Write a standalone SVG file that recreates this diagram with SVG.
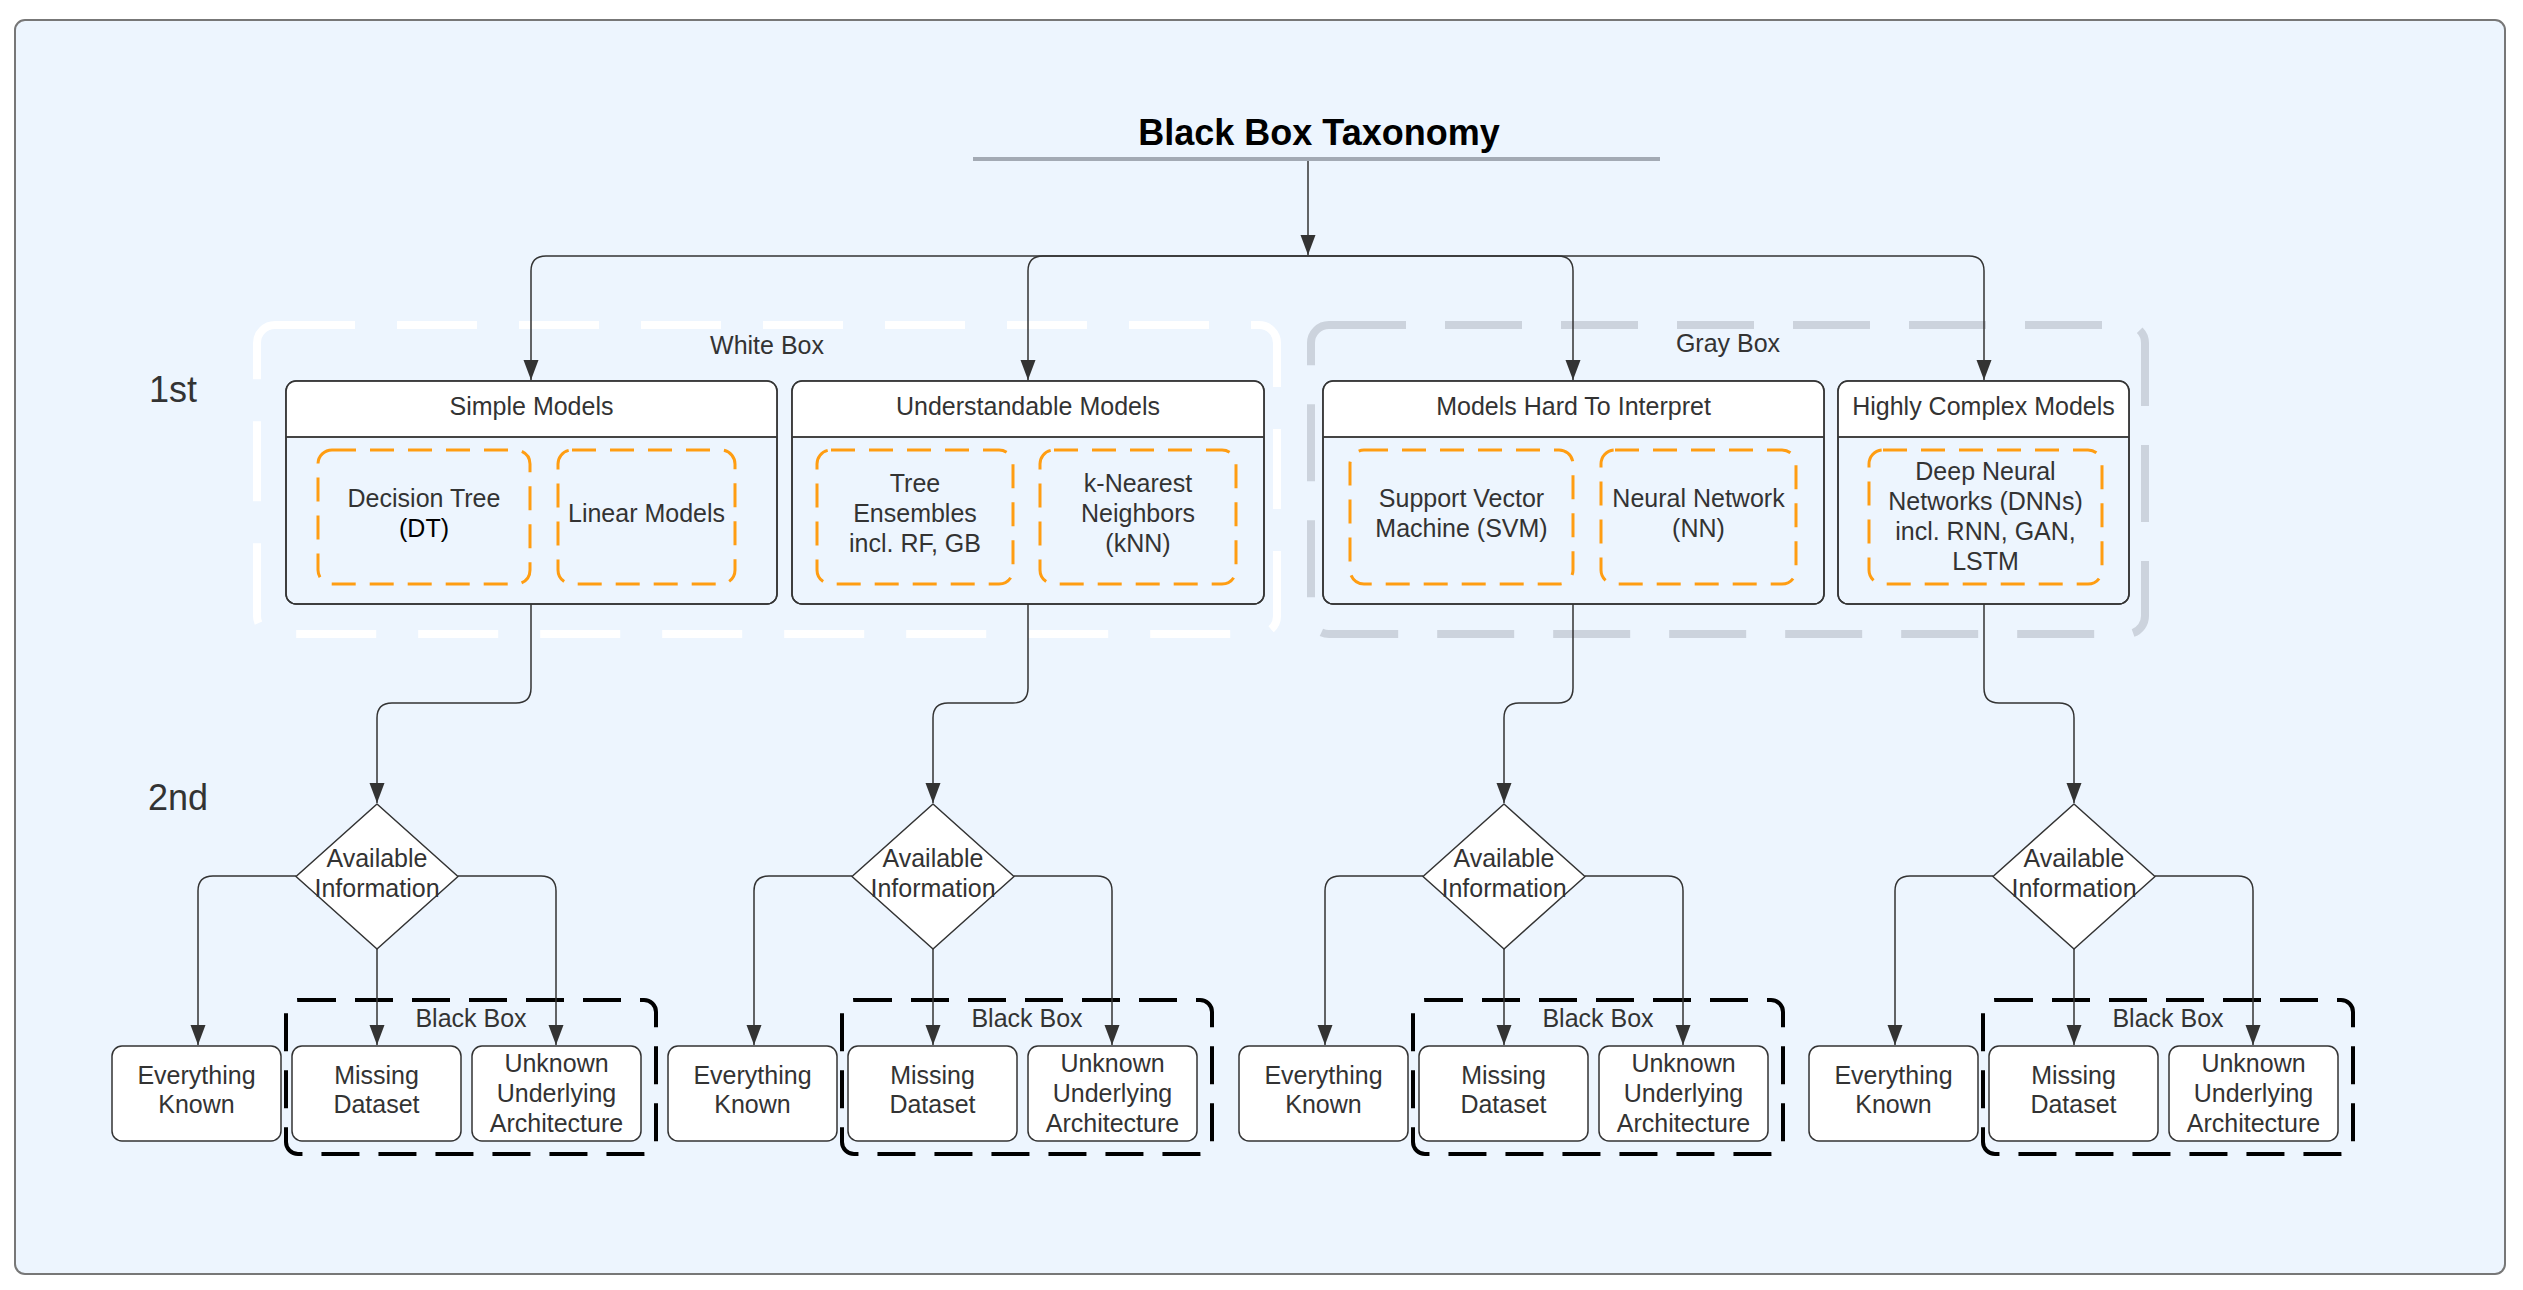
<svg xmlns="http://www.w3.org/2000/svg" width="2523" height="1290" viewBox="0 0 2523 1290">
<defs>
<style>
text{font-family:"Liberation Sans",Arial,Helvetica,sans-serif;fill:#333333;}
.t25{font-size:25px;}
.mid{text-anchor:middle;}
.lvl{font-size:36px;}
.title{font-size:36px;font-weight:bold;fill:#000000;}
.cat-body{fill:#edf5fe;stroke:#333333;stroke-width:1.5;}
.cat-head{fill:#ffffff;stroke:none;}
.divider{stroke:#444444;stroke-width:2;}
.orange{fill:none;stroke:#ff9d12;stroke-width:3;stroke-dasharray:24 14;}
.wbox{fill:none;stroke:#ffffff;stroke-width:8;stroke-dasharray:80 42;}
.gbox{fill:none;stroke:#ccd3dd;stroke-width:8;stroke-dasharray:77 39;}
.bbox{fill:none;stroke:#000000;stroke-width:4;stroke-dasharray:38 19;}
.node{fill:#ffffff;stroke:#333333;stroke-width:1.5;}
.conn path{fill:none;stroke:#333333;stroke-width:1.5;marker-end:url(#arrow);}
</style>
<marker id="arrow" markerUnits="userSpaceOnUse" markerWidth="21" markerHeight="16" refX="20" refY="7.5" orient="auto">
<path d="M0,0 L20,7.5 L0,15 Z" fill="#333333"/>
</marker>
</defs>

<rect id="frame" x="15" y="20" width="2490" height="1254" rx="10" fill="#edf5fe" stroke="#777777" stroke-width="2"/>

<g id="title">
<text class="title mid" x="1319" y="145">Black Box Taxonomy</text>
<line x1="973" y1="159" x2="1660" y2="159" stroke="#a3aab4" stroke-width="4"/>
</g>

<g id="level-labels">
<text class="lvl" x="149" y="402">1st</text>
<text class="lvl" x="148" y="810">2nd</text>
</g>

<g id="white-box">
<rect class="wbox" x="257" y="325" width="1020" height="309" rx="18"/>
<text class="t25 mid" x="767" y="354">White Box</text>
</g>
<g id="gray-box">
<rect class="gbox" x="1311" y="325" width="834" height="309" rx="18"/>
<text class="t25 mid" x="1728" y="352">Gray Box</text>
</g>

<g id="black-box-1"><rect class="bbox" x="286" y="1000" width="370" height="154" rx="12"/><text class="t25 mid" x="471" y="1027">Black Box</text></g>
<g id="black-box-2"><rect class="bbox" x="842" y="1000" width="370" height="154" rx="12"/><text class="t25 mid" x="1027" y="1027">Black Box</text></g>
<g id="black-box-3"><rect class="bbox" x="1413" y="1000" width="370" height="154" rx="12"/><text class="t25 mid" x="1598" y="1027">Black Box</text></g>
<g id="black-box-4"><rect class="bbox" x="1983" y="1000" width="370" height="154" rx="12"/><text class="t25 mid" x="2168" y="1027">Black Box</text></g>

<g id="connectors" class="conn">
<path d="M1308,161 V255"/>
<path d="M1308,256 H546 Q531,256 531,271 V380"/>
<path d="M1308,256 H1043 Q1028,256 1028,271 V380"/>
<path d="M1308,256 H1558 Q1573,256 1573,271 V380"/>
<path d="M1308,256 H1969 Q1984,256 1984,271 V380"/>
<path d="M531,604 V688 Q531,703 516,703 H392 Q377,703 377,718 V803"/>
<path d="M1028,604 V688 Q1028,703 1013,703 H948 Q933,703 933,718 V803"/>
<path d="M1573,604 V688 Q1573,703 1558,703 H1519 Q1504,703 1504,718 V803"/>
<path d="M1984,604 V688 Q1984,703 1999,703 H2059 Q2074,703 2074,718 V803"/>
<path d="M296,876 H213 Q198,876 198,891 V1045"/>
<path d="M377,949 V1045"/>
<path d="M458,876 H541 Q556,876 556,891 V1045"/>
<path d="M852,876 H769 Q754,876 754,891 V1045"/>
<path d="M933,949 V1045"/>
<path d="M1014,876 H1097 Q1112,876 1112,891 V1045"/>
<path d="M1423,876 H1340 Q1325,876 1325,891 V1045"/>
<path d="M1504,949 V1045"/>
<path d="M1585,876 H1668 Q1683,876 1683,891 V1045"/>
<path d="M1993,876 H1910 Q1895,876 1895,891 V1045"/>
<path d="M2074,949 V1045"/>
<path d="M2155,876 H2238 Q2253,876 2253,891 V1045"/>
</g>

<g id="simple-models">
<rect class="cat-body" x="286" y="381" width="491" height="223" rx="10"/>
<path class="cat-head" d="M286.75,437 V391 Q286.75,381.75 296,381.75 H767 Q776.25,381.75 776.25,391 V437 Z"/>
<line class="divider" x1="286" y1="437" x2="777" y2="437"/>
<rect x="286" y="381" width="491" height="223" rx="10" fill="none" stroke="#333333" stroke-width="1.5"/>
<text class="t25 mid" x="531.5" y="415">Simple Models</text>
</g>
<g id="decision-tree">
<rect class="orange" x="318" y="450" width="212" height="134" rx="14"/>
<text class="t25 mid" x="424" y="507">Decision Tree</text>
<text class="t25 mid" x="424" y="537" style="fill:#000000">(DT)</text>
</g>
<g id="linear-models">
<rect class="orange" x="558" y="450" width="177" height="134" rx="14"/>
<text class="t25 mid" x="646.5" y="522">Linear Models</text>
</g>

<g id="understandable-models">
<rect class="cat-body" x="792" y="381" width="472" height="223" rx="10"/>
<path class="cat-head" d="M792.75,437 V391 Q792.75,381.75 802,381.75 H1254 Q1263.25,381.75 1263.25,391 V437 Z"/>
<line class="divider" x1="792" y1="437" x2="1264" y2="437"/>
<rect x="792" y="381" width="472" height="223" rx="10" fill="none" stroke="#333333" stroke-width="1.5"/>
<text class="t25 mid" x="1028" y="415">Understandable Models</text>
</g>
<g id="tree-ensembles">
<rect class="orange" x="817" y="450" width="196" height="134" rx="14"/>
<text class="t25 mid" x="915" y="492">Tree</text>
<text class="t25 mid" x="915" y="522">Ensembles</text>
<text class="t25 mid" x="915" y="552">incl. RF, GB</text>
</g>
<g id="knn">
<rect class="orange" x="1040" y="450" width="196" height="134" rx="14"/>
<text class="t25 mid" x="1138" y="492">k-Nearest</text>
<text class="t25 mid" x="1138" y="522">Neighbors</text>
<text class="t25 mid" x="1138" y="552">(kNN)</text>
</g>

<g id="models-hard-to-interpret">
<rect class="cat-body" x="1323" y="381" width="501" height="223" rx="10"/>
<path class="cat-head" d="M1323.75,437 V391 Q1323.75,381.75 1333,381.75 H1814 Q1823.25,381.75 1823.25,391 V437 Z"/>
<line class="divider" x1="1323" y1="437" x2="1824" y2="437"/>
<rect x="1323" y="381" width="501" height="223" rx="10" fill="none" stroke="#333333" stroke-width="1.5"/>
<text class="t25 mid" x="1573.5" y="415">Models Hard To Interpret</text>
</g>
<g id="svm">
<rect class="orange" x="1350" y="450" width="223" height="134" rx="14"/>
<text class="t25 mid" x="1461.5" y="507">Support Vector</text>
<text class="t25 mid" x="1461.5" y="537">Machine (SVM)</text>
</g>
<g id="neural-network">
<rect class="orange" x="1601" y="450" width="195" height="134" rx="14"/>
<text class="t25 mid" x="1698.5" y="507">Neural Network</text>
<text class="t25 mid" x="1698.5" y="537">(NN)</text>
</g>

<g id="highly-complex-models">
<rect class="cat-body" x="1838" y="381" width="291" height="223" rx="10"/>
<path class="cat-head" d="M1838.75,437 V391 Q1838.75,381.75 1848,381.75 H2119 Q2128.25,381.75 2128.25,391 V437 Z"/>
<line class="divider" x1="1838" y1="437" x2="2129" y2="437"/>
<rect x="1838" y="381" width="291" height="223" rx="10" fill="none" stroke="#333333" stroke-width="1.5"/>
<text class="t25 mid" x="1983.5" y="415">Highly Complex Models</text>
</g>
<g id="dnn">
<rect class="orange" x="1869" y="450" width="233" height="134" rx="14"/>
<text class="t25 mid" x="1985.5" y="480">Deep Neural</text>
<text class="t25 mid" x="1985.5" y="510">Networks (DNNs)</text>
<text class="t25 mid" x="1985.5" y="540">incl. RNN, GAN,</text>
<text class="t25 mid" x="1985.5" y="570">LSTM</text>
</g>

<g id="info-1">
<path class="node" stroke-linejoin="round" d="M377,804 L458,876.5 L377,949 L296,876.5 Z"/>
<text class="t25 mid" x="377" y="867">Available</text>
<text class="t25 mid" x="377" y="897">Information</text>
</g>
<g id="info-2">
<path class="node" stroke-linejoin="round" d="M933,804 L1014,876.5 L933,949 L852,876.5 Z"/>
<text class="t25 mid" x="933" y="867">Available</text>
<text class="t25 mid" x="933" y="897">Information</text>
</g>
<g id="info-3">
<path class="node" stroke-linejoin="round" d="M1504,804 L1585,876.5 L1504,949 L1423,876.5 Z"/>
<text class="t25 mid" x="1504" y="867">Available</text>
<text class="t25 mid" x="1504" y="897">Information</text>
</g>
<g id="info-4">
<path class="node" stroke-linejoin="round" d="M2074,804 L2155,876.5 L2074,949 L1993,876.5 Z"/>
<text class="t25 mid" x="2074" y="867">Available</text>
<text class="t25 mid" x="2074" y="897">Information</text>
</g>

<g id="everything-known-1"><rect class="node" x="112" y="1046" width="169" height="95" rx="10"/><text class="t25 mid" x="196.5" y="1084">Everything</text><text class="t25 mid" x="196.5" y="1113">Known</text></g>
<g id="missing-dataset-1"><rect class="node" x="292" y="1046" width="169" height="95" rx="10"/><text class="t25 mid" x="376.5" y="1084">Missing</text><text class="t25 mid" x="376.5" y="1113">Dataset</text></g>
<g id="unknown-arch-1"><rect class="node" x="472" y="1046" width="169" height="95" rx="10"/><text class="t25 mid" x="556.5" y="1072">Unknown</text><text class="t25 mid" x="556.5" y="1102">Underlying</text><text class="t25 mid" x="556.5" y="1132">Architecture</text></g>

<g id="everything-known-2"><rect class="node" x="668" y="1046" width="169" height="95" rx="10"/><text class="t25 mid" x="752.5" y="1084">Everything</text><text class="t25 mid" x="752.5" y="1113">Known</text></g>
<g id="missing-dataset-2"><rect class="node" x="848" y="1046" width="169" height="95" rx="10"/><text class="t25 mid" x="932.5" y="1084">Missing</text><text class="t25 mid" x="932.5" y="1113">Dataset</text></g>
<g id="unknown-arch-2"><rect class="node" x="1028" y="1046" width="169" height="95" rx="10"/><text class="t25 mid" x="1112.5" y="1072">Unknown</text><text class="t25 mid" x="1112.5" y="1102">Underlying</text><text class="t25 mid" x="1112.5" y="1132">Architecture</text></g>

<g id="everything-known-3"><rect class="node" x="1239" y="1046" width="169" height="95" rx="10"/><text class="t25 mid" x="1323.5" y="1084">Everything</text><text class="t25 mid" x="1323.5" y="1113">Known</text></g>
<g id="missing-dataset-3"><rect class="node" x="1419" y="1046" width="169" height="95" rx="10"/><text class="t25 mid" x="1503.5" y="1084">Missing</text><text class="t25 mid" x="1503.5" y="1113">Dataset</text></g>
<g id="unknown-arch-3"><rect class="node" x="1599" y="1046" width="169" height="95" rx="10"/><text class="t25 mid" x="1683.5" y="1072">Unknown</text><text class="t25 mid" x="1683.5" y="1102">Underlying</text><text class="t25 mid" x="1683.5" y="1132">Architecture</text></g>

<g id="everything-known-4"><rect class="node" x="1809" y="1046" width="169" height="95" rx="10"/><text class="t25 mid" x="1893.5" y="1084">Everything</text><text class="t25 mid" x="1893.5" y="1113">Known</text></g>
<g id="missing-dataset-4"><rect class="node" x="1989" y="1046" width="169" height="95" rx="10"/><text class="t25 mid" x="2073.5" y="1084">Missing</text><text class="t25 mid" x="2073.5" y="1113">Dataset</text></g>
<g id="unknown-arch-4"><rect class="node" x="2169" y="1046" width="169" height="95" rx="10"/><text class="t25 mid" x="2253.5" y="1072">Unknown</text><text class="t25 mid" x="2253.5" y="1102">Underlying</text><text class="t25 mid" x="2253.5" y="1132">Architecture</text></g>
</svg>
